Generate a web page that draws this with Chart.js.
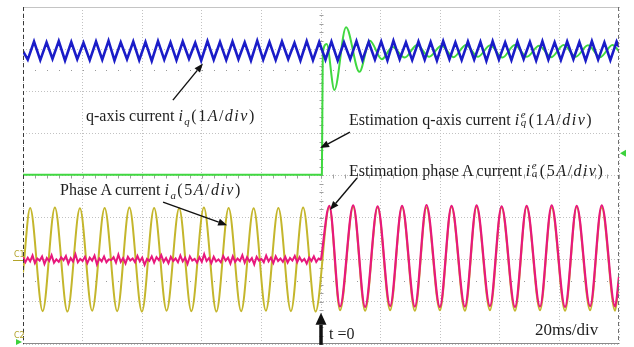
<!DOCTYPE html>
<html lang="en">
<head>
  <meta charset="UTF-8">
  <title>Sensorless startup waveforms</title>
  <style>
    body {
      margin: 0;
      padding: 0;
      background: #fff;
    }
    .scope {
      position: relative;
      width: 634px;
      height: 347px;
      overflow: hidden;
      background: #fff;
    }
    #scope-chart {
      position: absolute;
      left: 0;
      top: 0;
    }
    .lbl {
      position: absolute;
      font-family: 'Liberation Serif', 'Times New Roman', serif;
      font-size: 16px;
      line-height: 1;
      color: #1e1e1e;
      white-space: nowrap;
    }
    .m {
      letter-spacing: 1.5px;
    }
    .lbl i {
      font-style: italic;
    }
    .lbl sub {
      font-size: 0.68em;
      font-style: italic;
      vertical-align: -0.35em;
      line-height: 0;
    }
    /* stacked superscript e over subscript */
    .ss {
      position: relative;
      display: inline-block;
      width: 0.5em;
      height: 1em;
      font-style: italic;
    }
    .ss .up, .ss .dn {
      position: absolute;
      left: 0;
      font-size: 0.68em;
      line-height: 1;
      letter-spacing: 0;
    }
    .ss .up { top: 0.02em; }
    .ss .dn { top: 0.72em; }
    .mark {
      position: absolute;
      font-family: 'DejaVu Sans', sans-serif;
      font-size: 8px;
      line-height: 1;
      color: #b3a32a;
    }
  </style>
  <script src="https://cdn.jsdelivr.net/npm/chart.js"></script>
</head>
<body>
  <div class="scope">
    <canvas id="scope-chart" width="634" height="347"></canvas>

    <div class="lbl" style="left:86px; top:108px;">q-axis current <span class="m"><i>i</i><sub>q</sub>(1<i>A</i>/<i>div</i>)</span></div>
    <div class="lbl" style="left:349px; top:109px;">Estimation q-axis current <span class="m"><i>i</i><span class="ss"><span class="up">e</span><span class="dn">q</span></span>(1<i>A</i>/<i>div</i>)</span></div>
    <div class="lbl" style="left:349px; top:160px;">Estimation phase A current <span class="m"><i>i</i><span class="ss"><span class="up">e</span><span class="dn">a</span></span>(5<i>A</i>/<i>div</i>)</span></div>
    <div class="lbl" style="left:60px; top:182px;">Phase A current <span class="m"><i>i</i><sub>a</sub>(5<i>A</i>/<i>div</i>)</span></div>
    <div class="lbl" style="left:535px; top:321px; font-size:17px;">20ms/div</div>
    <div class="lbl" style="left:329px; top:326px;">t =0</div>

    <div class="mark" style="left:14px; top:251px;">C1</div>
    <div class="mark" style="left:14px; top:332px;">C2</div>
  </div>

  <script>
    // Scope settings: 20 ms/div over 10 divisions, 8 vertical divisions
    const timeMin = -100;
    const timeMax = 100;
    const timeStep = 20;
    const divMin = -4;
    const divMax = 4;

    // q-axis current i_q (blue), in divisions
    const iqTimes = [
      -100, -98.4, -96.3, -94.2, -92.1, -90.1, -88.0, -85.9, -83.8, -81.8,
      -79.7, -77.6, -75.5, -73.4, -71.3, -69.3, -67.2, -65.1, -63.0, -61.0,
      -58.9, -56.8, -54.7, -52.6, -50.5, -48.5, -46.4, -44.3, -42.2, -40.2,
      -38.1, -36.0, -33.9, -31.8, -29.7, -27.7, -25.6, -23.5, -21.4, -19.4,
      -17.3, -15.2, -13.1, -11.0, -8.9, -6.9, -4.8, -2.7, -0.6, 1.5,
      3.5, 5.6, 7.7, 9.8, 11.9, 13.9, 16.0, 18.1, 20.2, 22.3,
      24.3, 26.4, 28.5, 30.6, 32.7, 34.8, 36.8, 38.9, 41.0, 43.1,
      45.1, 47.2, 49.3, 51.4, 53.5, 55.5, 57.6, 59.7, 61.8, 63.9,
      65.9, 68.0, 70.1, 72.2, 74.3, 76.3, 78.4, 80.5, 82.6, 84.7,
      86.7, 88.8, 90.9, 93.0, 95.1, 97.1, 99.2, 100
    ];
    const iqValues = [
      2.95, 2.75, 3.18, 2.74, 3.16, 2.77, 3.19, 2.73, 3.17, 2.76,
      3.15, 2.74, 3.18, 2.75, 3.20, 2.73, 3.16, 2.76, 3.18, 2.74,
      3.17, 2.72, 3.19, 2.75, 3.16, 2.74, 3.18, 2.77, 3.15, 2.73,
      3.19, 2.75, 3.17, 2.74, 3.18, 2.76, 3.16, 2.73, 3.20, 2.75,
      3.17, 2.74, 3.18, 2.76, 3.15, 2.73, 3.19, 2.74, 3.17, 2.75,
      3.18, 2.73, 3.16, 2.76, 3.19, 2.74, 3.17, 2.75, 3.18, 2.73,
      3.20, 2.76, 3.16, 2.74, 3.18, 2.75, 3.17, 2.73, 3.19, 2.76,
      3.16, 2.74, 3.18, 2.75, 3.17, 2.72, 3.19, 2.75, 3.16, 2.74,
      3.18, 2.76, 3.17, 2.73, 3.19, 2.75, 3.16, 2.74, 3.18, 2.76,
      3.17, 2.73, 3.19, 2.75, 3.16, 2.74, 3.18, 3.05
    ];

    // estimated q-axis current (green)
    const iqEstTimes = [
      -100, 0.3, 0.6, 1.9, 4.5, 8.4, 12.9, 16.4, 20.4, 24.0,
      28.1, 32.2, 36.3, 40.4, 44.5, 48.6, 52.7, 56.8, 60.9, 65.0,
      69.1, 73.2, 77.3, 81.4, 85.5, 89.6, 93.7, 97.8, 100
    ];
    const iqEstValues = [
      0.02, 0.02, 2.90, 3.12, 2.03, 3.52, 2.46, 3.20, 2.76, 3.05,
      2.80, 3.10, 2.82, 3.08, 2.81, 3.10, 2.82, 3.09, 2.80, 3.10,
      2.82, 3.08, 2.81, 3.10, 2.82, 3.09, 2.81, 3.10, 2.95
    ];

    // phase A current i_a (yellow)
    const iaTimes = [
      -100, -97.6, -93.4, -89.3, -85.1, -80.9, -76.8, -72.6, -68.4, -64.3,
      -60.1, -56.0, -51.8, -47.6, -43.5, -39.3, -35.1, -31.0, -26.8, -22.6,
      -18.5, -14.3, -10.1, -6.0, -1.8, 2.8, 6.4, 10.8, 14.8, 19.0,
      23.2, 27.2, 31.5, 35.4, 39.9, 43.8, 48.3, 52.2, 56.7, 60.6,
      65.1, 69.0, 73.5, 77.4, 81.9, 85.8, 90.3, 94.2, 98.7, 100
    ];
    const iaValues = [
      -2.30, -0.77, -3.22, -0.76, -3.23, -0.78, -3.21, -0.77, -3.22, -0.76,
      -3.23, -0.77, -3.21, -0.78, -3.22, -0.76, -3.23, -0.77, -3.22, -0.78,
      -3.21, -0.77, -3.22, -0.76, -3.23, -0.75, -3.20, -0.75, -3.21, -0.76,
      -3.20, -0.75, -3.21, -0.76, -3.20, -0.75, -3.21, -0.75, -3.20, -0.76,
      -3.21, -0.75, -3.20, -0.76, -3.21, -0.75, -3.20, -0.76, -3.21, -2.50
    ];

    // estimated phase A current (pink): noisy zero before t=0, sampled every 0.8 ms
    const iaEstNoiseStart = -100;
    const iaEstNoiseStep = 0.8;
    const iaEstNoiseValues = [
      -1.93, -2.06, -1.95, -2.04, -1.90, -2.08, -1.97, -2.02, -1.92, -2.10,
      -1.96, -2.03, -1.89, -2.07, -1.99, -2.05, -1.94, -2.01, -1.91, -2.09,
      -1.96, -2.04, -1.87, -2.06, -1.98, -2.03, -1.93, -2.08, -1.95, -2.02,
      -1.90, -2.11, -1.97, -2.04, -1.92, -2.06, -1.99, -2.01, -1.94, -2.07,
      -1.88, -2.05, -1.96, -2.09, -1.93, -2.02, -1.97, -2.06, -1.91, -2.04,
      -1.95, -2.12, -1.98, -2.03, -1.92, -2.07, -1.94, -2.01, -1.89, -2.05,
      -1.96, -2.08, -1.93, -2.03, -1.97, -2.06, -1.90, -2.04, -1.95, -2.10,
      -1.92, -2.02, -1.98, -2.07, -1.94, -2.05, -1.87, -2.03, -1.96, -2.08,
      -1.93, -2.04, -1.99, -2.06, -1.91, -2.02, -1.95, -2.09, -1.92, -2.05,
      -1.97, -2.03, -1.89, -2.07, -1.94, -2.04, -1.96, -2.11, -1.93, -2.02,
      -1.98, -2.06, -1.90, -2.04, -1.95, -2.08, -1.92, -2.03, -1.97, -2.05,
      -1.93, -2.07, -1.96, -2.02, -1.91, -2.06, -1.94, -2.04, -1.98, -2.09,
      -1.95, -2.03, -1.92, -2.05, -1.97, -2.00
    ];
    // estimated phase A current after t=0
    const iaEstTimes = [
      0, 2.8, 6.4, 10.8, 14.8, 19.0, 23.2, 27.2, 31.5, 35.4,
      39.9, 43.8, 48.3, 52.2, 56.7, 60.6, 65.1, 69.0, 73.5, 77.4,
      81.9, 85.8, 90.3, 94.2, 98.7, 100
    ];
    const iaEstValues = [
      -2.00, -0.72, -3.11, -0.71, -3.12, -0.73, -3.10, -0.72, -3.11, -0.70,
      -3.12, -0.72, -3.11, -0.71, -3.10, -0.73, -3.12, -0.72, -3.11, -0.71,
      -3.12, -0.72, -3.10, -0.71, -3.11, -2.40
    ];

    // annotation arrows in data units: [fromTime, fromDiv, toTime, toDiv]
    const arrows = [
      [-49.7, 1.79, -39.6, 2.66],
      [9.7, 1.03, -0.3, 0.65],
      [12.1, -0.06, 3.0, -0.82],
      [-53.0, -0.63, -31.5, -1.18]
    ];
    const triggerArrow = [0, -4.02, 0, -3.26];

    function toPoints(xs, ys) {
      return xs.map((x, i) => ({ x: x, y: ys[i] }));
    }

    const noisePoints = iaEstNoiseValues.map((v, i) => ({ x: iaEstNoiseStart + i * iaEstNoiseStep, y: v }));

    function drawArrow(ctx, x1, y1, x2, y2, headLen, headW, lineW) {
      const ang = Math.atan2(y2 - y1, x2 - x1);
      const bx = x2 - headLen * Math.cos(ang);
      const by = y2 - headLen * Math.sin(ang);
      ctx.lineWidth = lineW;
      ctx.beginPath();
      ctx.moveTo(x1, y1);
      ctx.lineTo(bx, by);
      ctx.stroke();
      ctx.beginPath();
      ctx.moveTo(x2, y2);
      ctx.lineTo(bx + headW * Math.sin(ang), by - headW * Math.cos(ang));
      ctx.lineTo(bx - headW * Math.sin(ang), by + headW * Math.cos(ang));
      ctx.closePath();
      ctx.fill();
    }

    // frame, centre-axis ticks, half-division dots and the arrows
    const scopeDecor = {
      id: 'scopeDecor',
      beforeDatasetsDraw(chart) {
        const { ctx, scales } = chart;
        const xs = scales.x, ys = scales.y;
        ctx.save();
        ctx.fillStyle = '#9a9a9a';
        // ticks on the centre lines
        const cx = Math.round(xs.getPixelForValue(0)) + 0.5;
        const cy = Math.round(ys.getPixelForValue(0)) + 0.5;
        ctx.strokeStyle = '#a0a0a0';
        ctx.lineWidth = 1;
        ctx.beginPath();
        for (let v = divMin; v <= divMax + 0.001; v += 0.2) {
          const py = Math.round(ys.getPixelForValue(v)) + 0.5;
          ctx.moveTo(cx - 2, py);
          ctx.lineTo(cx + 2, py);
        }
        for (let t = timeMin; t <= timeMax + 0.001; t += 4) {
          const px = Math.round(xs.getPixelForValue(t)) + 0.5;
          ctx.moveTo(px, cy - 2);
          ctx.lineTo(px, cy + 2);
        }
        ctx.stroke();
        // dotted half-division rows
        [2.5, -2.5].forEach(v => {
          const py = Math.round(ys.getPixelForValue(v));
          for (let t = timeMin + 4; t < timeMax; t += 4) {
            ctx.fillRect(Math.round(xs.getPixelForValue(t)), py, 1, 1);
          }
        });
        ctx.restore();
      },
      afterDatasetsDraw(chart) {
        const { ctx, chartArea, scales } = chart;
        const xs = scales.x, ys = scales.y;
        const { left, right, top, bottom } = chartArea;
        ctx.save();
        // frame
        ctx.lineWidth = 1;
        ctx.strokeStyle = '#c4c4c4';
        ctx.beginPath();
        ctx.moveTo(left, top + 0.5);
        ctx.lineTo(right, top + 0.5);
        ctx.stroke();
        ctx.strokeStyle = '#8a8a8a';
        ctx.beginPath();
        ctx.moveTo(left, bottom - 0.5);
        ctx.lineTo(right, bottom - 0.5);
        ctx.stroke();
        ctx.setLineDash([4, 3]);
        ctx.strokeStyle = '#3a3a3a';
        ctx.beginPath();
        ctx.moveTo(left + 0.5, top);
        ctx.lineTo(left + 0.5, bottom);
        ctx.stroke();
        ctx.strokeStyle = '#707070';
        ctx.beginPath();
        ctx.moveTo(right - 0.5, top);
        ctx.lineTo(right - 0.5, bottom);
        ctx.stroke();
        ctx.setLineDash([]);

        // C1 / C2 markers on the left edge
        ctx.strokeStyle = '#b3a32a';
        ctx.beginPath();
        ctx.moveTo(13, Math.round(ys.getPixelForValue(-2)) + 0.5);
        ctx.lineTo(left, Math.round(ys.getPixelForValue(-2)) + 0.5);
        ctx.stroke();
        ctx.fillStyle = '#3cd23c';
        ctx.beginPath();
        ctx.moveTo(left - 1, bottom - 2);
        ctx.lineTo(left - 7, bottom - 5);
        ctx.lineTo(left - 7, bottom + 1);
        ctx.closePath();
        ctx.fill();
        // trigger level marker on the right edge
        const ty = ys.getPixelForValue(0.53);
        ctx.beginPath();
        ctx.moveTo(right + 1, ty);
        ctx.lineTo(right + 7, ty - 3.5);
        ctx.lineTo(right + 7, ty + 3.5);
        ctx.closePath();
        ctx.fill();

        // annotation arrows
        ctx.strokeStyle = '#111';
        ctx.fillStyle = '#111';
        arrows.forEach(a => {
          drawArrow(ctx, xs.getPixelForValue(a[0]), ys.getPixelForValue(a[1]),
            xs.getPixelForValue(a[2]), ys.getPixelForValue(a[3]), 9, 3.5, 1.4);
        });
        drawArrow(ctx, xs.getPixelForValue(triggerArrow[0]), ys.getPixelForValue(triggerArrow[1]),
          xs.getPixelForValue(triggerArrow[2]), ys.getPixelForValue(triggerArrow[3]), 12, 5.5, 3.5);
        ctx.restore();
      }
    };

    new Chart(document.getElementById('scope-chart'), {
      type: 'line',
      data: {
        datasets: [
          {
            label: 'q-axis current',
            data: toPoints(iqTimes, iqValues),
            borderColor: '#1a1cc8',
            borderWidth: 2.6,
            tension: 0,
            pointRadius: 0,
            order: 1
          },
          {
            label: 'Estimation q-axis current',
            data: toPoints(iqEstTimes, iqEstValues),
            borderColor: '#40d840',
            borderWidth: 2,
            cubicInterpolationMode: 'monotone',
            pointRadius: 0,
            order: 2
          },
          {
            label: 'Estimation phase A current (before t=0)',
            data: noisePoints,
            borderColor: '#e8187c',
            borderWidth: 2,
            tension: 0,
            pointRadius: 0,
            order: 3
          },
          {
            label: 'Estimation phase A current',
            data: toPoints(iaEstTimes, iaEstValues),
            borderColor: '#e8187c',
            borderWidth: 2.2,
            cubicInterpolationMode: 'monotone',
            pointRadius: 0,
            order: 3
          },
          {
            label: 'Phase A current',
            data: toPoints(iaTimes, iaValues),
            borderColor: '#c4b62c',
            borderWidth: 2,
            cubicInterpolationMode: 'monotone',
            pointRadius: 0,
            order: 4
          }
        ]
      },
      options: {
        responsive: false,
        animation: false,
        devicePixelRatio: 1,
        layout: {
          padding: { left: 23, right: 15, top: 7, bottom: 3 }
        },
        scales: {
          x: {
            type: 'linear',
            min: timeMin,
            max: timeMax,
            ticks: { display: false, stepSize: timeStep },
            grid: { color: '#c2c2c2', drawTicks: false, lineWidth: 1 },
            border: { display: false, dash: [1, 2] }
          },
          y: {
            type: 'linear',
            min: divMin,
            max: divMax,
            ticks: { display: false, stepSize: 1 },
            grid: { color: '#c2c2c2', drawTicks: false, lineWidth: 1 },
            border: { display: false, dash: [1, 2] }
          }
        },
        plugins: {
          legend: { display: false },
          tooltip: { enabled: false }
        }
      },
      plugins: [scopeDecor]
    });
  </script>
</body>
</html>
